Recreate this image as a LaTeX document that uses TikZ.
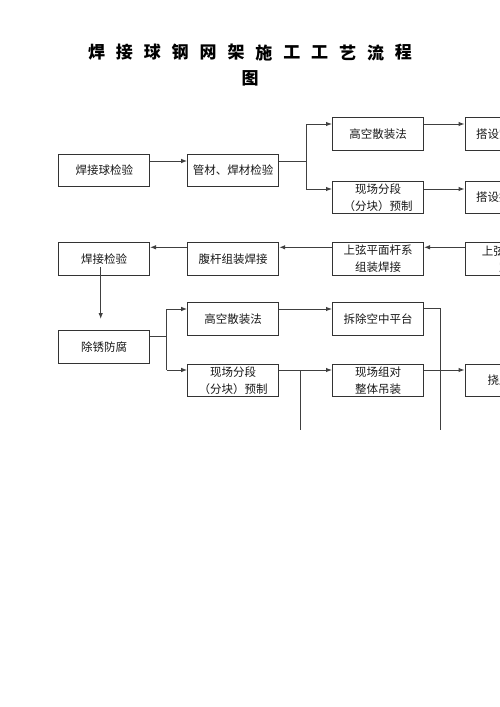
\documentclass[tikz,border=0pt]{standalone}
\usepackage{fontspec}
\newfontfamily\cjk{Noto Sans CJK SC}
\usetikzlibrary{arrows.meta,calc}
\begin{document}
\begin{tikzpicture}[x=1pt,y=-1pt,
  box/.style={draw=black!80,line width=1pt,minimum width=91pt,minimum height=32.5pt,inner sep=1pt,
    font=\cjk\fontsize{11.5}{16.7}\selectfont,align=center,text=black!90},
  ln/.style={draw=black!75,line width=1pt},
  arr/.style={ln,-{Latex[length=6pt,width=4.5pt]}},
  ttl/.style={font=\cjk\bfseries\fontsize{17}{20}\selectfont,inner sep=0pt}]
\useasboundingbox (0,0) rectangle (500,707);
\clip (0,0) rectangle (500,707);
\fill[white] (0,0) rectangle (500,707);
% title
\foreach \c [count=\i from 0] in {焊,接,球,钢,网,架,施,工,工,艺,流,程}
  \node[ttl] (t\i) at (96.5+\i*27.9,52.5) {\c};
\node[ttl] (t12) at (250,78.7) {图};
% boxes
\node[box] (A) at (104.3,170.5) {焊接球检验};
\node[box] (B) at (233.2,170.5) {管材、焊材检验};
\node[box] (C) at (378,134) {高空散装法};
\node[box] (D) at (378,197.5) {现场分段\\（分块）预制};
\node[box] (E) at (510.5,134) {搭设空中平台};
\node[box] (F) at (510.5,197.5) {搭设拼装胎架};
\node[box] (G) at (104,259) {焊接检验};
\node[box] (H) at (233.2,259) {腹杆组装焊接};
\node[box] (I) at (378,259) {上弦平面杆系\\组装焊接};
\node[box] (J) at (510.5,259) {上弦球节点\\定位};
\node[box] (K) at (104,347) {除锈防腐};
\node[box] (L) at (233.2,319) {高空散装法};
\node[box] (M) at (378,319) {拆除空中平台};
\node[box] (N) at (233.2,380.5) {现场分段\\（分块）预制};
\node[box] (O) at (378,380.5) {现场组对\\整体吊装};
\node[box] (P) at (510.5,380.5) {挠度测量};
% connectors row 1
\coordinate (s1) at (306,161);
\draw[arr] (A.east |- s1) -- (B.west |- s1);
\draw[ln] (B.east |- s1) -- (s1);
\coordinate (s1a) at (306,124);
\coordinate (s1b) at (306,189);
\draw[ln] (s1a) -- (s1b);
\draw[arr] (s1a) -- (C.west |- s1a);
\draw[arr] (s1b) -- (D.west |- s1b);
\draw[arr] (C.east |- s1a) -- (E.west |- s1a);
\draw[arr] (D.east |- s1b) -- (F.west |- s1b);
% row 2
\coordinate (r2) at (0,247.3);
\draw[arr] (J.west |- r2) -- (I.east |- r2);
\draw[arr] (I.west |- r2) -- (H.east |- r2);
\draw[arr] (H.west |- r2) -- (G.east |- r2);
\coordinate (g1) at (100.7,267);
\coordinate (g2) at (100.7,319);
\draw[arr] (g1) -- (g2);
% row 3
\coordinate (k0) at (166.7,336.7);
\coordinate (k1) at (166.7,309);
\coordinate (k2) at (166.7,370);
\draw[ln] (K.east |- k0) -- (k0);
\draw[ln] (k1) -- (k2);
\draw[arr] (k1) -- (L.west |- k1);
\draw[arr] (k2) -- (N.west |- k2);
\draw[arr] (L.east |- k1) -- (M.west |- k1);
\coordinate (m1) at (440.7,308.7);
\coordinate (m2) at (440.7,430);
\draw[ln] (M.east |- m1) -- (m1) -- (m2);
\coordinate (n1) at (300,370);
\coordinate (n2) at (300,430);
\draw[arr] (N.east |- n1) -- (O.west |- n1);
\draw[ln] (n1) -- (n2);
\draw[arr] (O.east |- n1) -- (P.west |- n1);
\end{tikzpicture}
\end{document}
